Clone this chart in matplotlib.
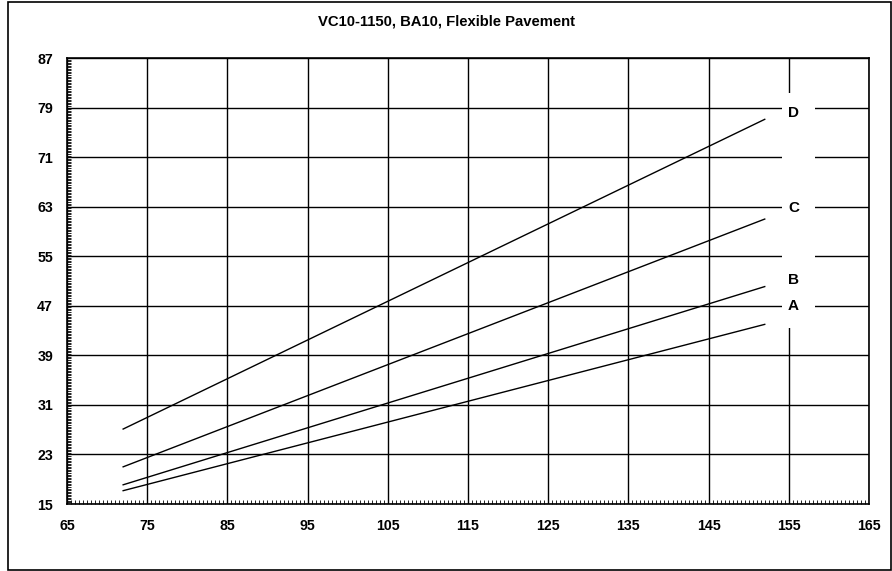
import matplotlib
matplotlib.use("Agg")
import matplotlib.pyplot as plt
from matplotlib.patches import Rectangle
from matplotlib.ticker import MultipleLocator

plt.rcParams['font.family'] = ['Liberation Sans', 'DejaVu Sans']

x_vals = [72, 152]
series = {
    "A": [17.15, 44.0],
    "B": [18.1, 50.1],
    "C": [21.0, 61.0],
    "D": [27.1, 77.1],
}
label_x = 155.6
label_y = {"A": 47.0, "B": 51.2, "C": 62.8, "D": 78.1}
x_ticks = list(range(65, 166, 10))
y_ticks = list(range(15, 88, 8))
title = "VC10-1150, BA10, Flexible Pavement"

fig = plt.figure(figsize=(8.92, 5.71), dpi=100)
ax = fig.add_axes([67/892, 1-504/571, (869-67)/892, (504-58)/571])

ax.set_xlim(65, 165)
ax.set_ylim(15, 87)
ax.set_xticks(x_ticks)
ax.set_yticks(y_ticks)
ax.xaxis.set_minor_locator(MultipleLocator(0.5))
ax.yaxis.set_minor_locator(MultipleLocator(0.25))
ax.grid(True, which='major', color='black', linewidth=1.0, zorder=1)
ax.tick_params(which='major', length=0, labelsize=10.2)
ax.tick_params(axis='y', which='major', pad=10)
ax.tick_params(axis='x', which='major', pad=11)
ax.tick_params(which='minor', direction='in', length=3, width=0.6, color='black')
for lab in ax.get_xticklabels() + ax.get_yticklabels():
    lab.set_fontweight('bold')
for s in ax.spines.values():
    s.set_linewidth(1.2)
    s.set_zorder(5)

for name, ys in series.items():
    ax.plot(x_vals, ys, color='black', linewidth=1.0, zorder=3)

# white gap behind labels
ax.add_patch(Rectangle((154.1, 43.4), 4.2, 38.0, facecolor='white', edgecolor='none', zorder=2))
for name, y in label_y.items():
    ax.text(label_x, y, name, ha='center', va='center', fontsize=11, fontweight='bold', zorder=4)

fig.text(447/892, 1-22/571, title, ha='center', va='center', fontsize=10.7, fontweight='bold')

fig.patches.append(Rectangle((8/892, 1-570/571), (891-8)/892, (570-2)/571,
                             transform=fig.transFigure, fill=False, edgecolor='black', linewidth=1.2))

fig.savefig("out.png", dpi=100)
